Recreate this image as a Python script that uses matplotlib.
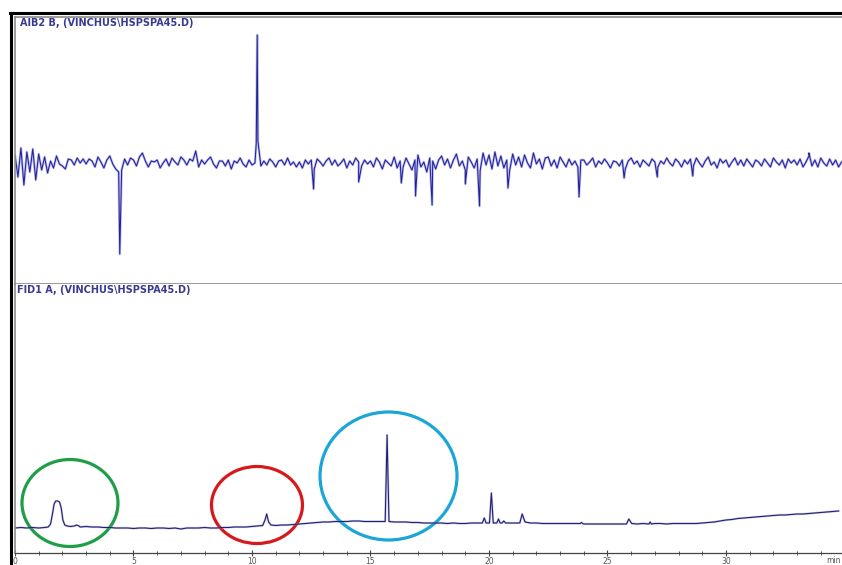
import numpy as np
import matplotlib
matplotlib.use("Agg")
import matplotlib.pyplot as plt
from matplotlib.patches import Ellipse
from matplotlib.lines import Line2D
from matplotlib.ticker import MultipleLocator

# AIB2 B trace: detector noise sampled every 0.125 min (signal offset, arbitrary units)
aib_step = 0.125
aib_noise = [
    8, -14, 15, -22, 11, -9, 14, -17, 9, -7, 6, -10,
    2, -5, 7, -1, -3, -6, 4, 3, -2, 5, 0, 4,
    -1, 4, 2, -4, 6, 1, -5, 3, 7, -1, -6, -9,
    -7, 4, -2, 5, 3, -3, 6, 10, 2, -4, 2, 1,
    3, -5, 0, 4, -3, 5, 1, -2, 6, 3, -2, 4,
    2, 12, -4, 3, -1, 3, 6, -1, -5, 2, 2, -3,
    3, -6, 2, 0, 5, -1, -4, 3, -2, 0, 22, -3,
    2, -2, 4, 1, -4, 2, 3, -2, 5, -2, 1, -4,
    1, -5, 3, -1, 3, -6, 4, 1, -3, 2, 5, -2,
    3, -3, 0, 4, -5, 2, -2, 5, 1, -3, 3, -1,
    2, -4, 5, 1, -6, 3, 0, -3, 6, -5, 2, -4,
    5, -1, -7, 3, 8, -4, 1, -9, 5, 2, -6, 3,
    7, -2, 4, -5, 3, 9, -3, 2, -7, 6, 1, -5,
    4, -8, 10, -2, 8, -6, 11, -3, 7, -5, 3, -7,
    9, -2, 6, -4, 8, 0, -5, 10, -1, 4, -6, 5,
    6, -3, 3, -5, 6, 1, -4, 4, -2, 2, -4, 3,
    3, -2, 1, 5, -4, 2, -1, 4, 0, -5, 2, 1,
    -3, 3, -6, 2, 5, -1, 2, -4, 3, 0, -3, 4,
    1, -4, 2, -1, 5, 0, -3, 4, 1, -4, 3, -1,
    4, -3, 5, 0, -4, 2, 6, -2, 1, -5, 4, 0,
    3, -4, 1, 5, -2, 3, -3, 4, 0, -4, 3, 1,
    -3, 4, 0, -4, 5, 1, -2, 3, -5, 4, 0, 3,
    -2, 4, -4, 1, 7, -3, 3, -4, 5, 0, -3, 4, -2, 3, -4, 1,
]
# sharp spikes on the AIB2 trace (min, signal)
aib_spike_t = [4.42, 10.18, 10.22, 12.6, 14.5, 16.3, 16.9, 17.6, 19.0, 19.6,
               20.8, 23.8, 25.7, 27.1, 28.6, 33.5]
aib_spike_v = [-91, 20, 128, -26, -19, -20, -33, -42, -21, -43,
               -25, -34, -15, -14, -13, 10]

# FID1 A baseline sampled every 0.25 min
fid_step = 0.25
fid_base = [
    0, 0.5, 0, 0.5, 0, 0.5, 0, 0.5, 1, 1.5, 1.5, 1,
    1.5, 1, 1, 0.5, 0.5, 0, 0, 0, -0.5, 0, 0, -0.5,
    0, 0, -0.5, 0, -1, 0, 0, 0, 0.5, 0, 0, 0.5,
    0.5, 1, 1, 1, 1.5, 2, 2, 2.5, 2.5, 3, 3, 3.5,
    4, 4.5, 5, 5.5, 6, 6, 6.5, 6.5, 6.5, 7, 7, 6.5,
    6.5, 6.5, 6.5, 6.5, 6, 6, 6, 5.5, 5.5, 5, 5, 5,
    5, 4.5, 5, 4.5, 4.5, 5, 5, 5, 5, 5, 5, 5,
    5, 5, 5, 5, 5, 4.5, 4.5, 4.5, 4.5, 4.5, 4.5, 4.5,
    4, 4, 4, 4, 4, 4, 4, 4, 4, 4, 4.5, 4.5,
    4.5, 4.5, 4, 4.5, 4.5, 4.5, 4.5, 4.5, 5, 5.5, 6, 7,
    8, 8.5, 9.5, 10, 10.5, 11, 11.5, 12, 12.5, 13, 13, 13.5,
    14, 14, 14.5, 15, 15.5, 16, 16.5, 17,
]
# FID peaks, each as its own run of points (min, signal)
fid_peak_t = [
    [1.40, 1.50, 1.58, 1.65, 1.72, 1.80, 1.88, 1.95, 2.02, 2.10, 2.20, 2.35],
    [2.50, 2.60, 2.70],
    [10.45, 10.55, 10.62, 10.70, 10.80],
    [15.62, 15.70, 15.78],
    [19.72, 19.80, 19.88],
    [20.02, 20.10, 20.18],
    [20.33, 20.40, 20.47],
    [20.55, 20.62, 20.70],
    [21.30, 21.40, 21.52],
    [23.85, 23.90, 23.95],
    [25.80, 25.90, 26.02],
    [26.75, 26.80, 26.85],
]
fid_peak_y = [
    [1, 4, 14, 24, 27, 27, 26, 20, 8, 3, 2, 1.5],
    [2, 3, 2],
    [2.5, 8, 14, 6, 3],
    [6.5, 93, 6.5],
    [5, 10, 5],
    [5, 35, 5],
    [5, 9, 5],
    [5, 7, 5],
    [5, 14, 6],
    [4.5, 5.5, 4.5],
    [4, 9, 4.5],
    [4, 6, 4],
]

# highlighted regions on the FID trace: centre (min, signal), size (min, signal)
mark_xy = [(2.32, 25), (10.21, 23), (15.76, 52)]
mark_size = [(4.05, 87), (3.84, 77), (5.78, 128)]
mark_colors = ["#1f9e48", "#d7191c", "#1ba6d6"]

tick_major = [0, 5, 10, 15, 20, 25, 30]

W, H = 842, 565
fig = plt.figure(figsize=(W / 100, H / 100), dpi=100)
fig.patch.set_facecolor("white")


def box(x0, y0, x1, y1):
    return [x0 / W, 1 - y1 / H, (x1 - x0) / W, (y1 - y0) / H]


tmax = 827 / 23.7
ax1 = fig.add_axes(box(15, 17, 842, 284))
ax2 = fig.add_axes(box(15, 284, 842, 553))

# top trace
t1 = np.arange(len(aib_noise)) * aib_step
t_all = np.concatenate([t1, aib_spike_t])
y_all = np.concatenate([np.array(aib_noise, float), aib_spike_v])
o = np.argsort(t_all, kind="stable")
ax1.plot(t_all[o], y_all[o], color="#9090e0", lw=1.8, alpha=0.6)
ax1.plot(t_all[o], y_all[o], color="#22229a", lw=0.75)
ax1.set_xlim(0, tmax)
ax1.set_ylim(-121, 146)

# bottom trace
t2 = np.arange(len(fid_base)) * fid_step
keep = np.ones(len(t2), bool)
for pt in fid_peak_t:
    keep &= ~((t2 >= pt[0]) & (t2 <= pt[-1]))
ft = np.concatenate([t2[keep]] + [np.array(p) for p in fid_peak_t])
fy = np.concatenate([np.array(fid_base, float)[keep]] + [np.array(p, float) for p in fid_peak_y])
o = np.argsort(ft, kind="stable")
ax2.plot(ft[o], fy[o], color="#9090e0", lw=1.6, alpha=0.5)
ax2.plot(ft[o], fy[o], color="#22226a", lw=0.8)
ax2.set_xlim(0, tmax)
ax2.set_ylim(-25, 244)

for (cx, cy), (w, h), c in zip(mark_xy, mark_size, mark_colors):
    ax2.add_patch(Ellipse((cx, cy), w, h, fill=False, ec=c, lw=2.3, clip_on=False))

for ax in (ax1, ax2):
    ax.set_facecolor("white")
    ax.spines["right"].set_visible(False)
    ax.spines["left"].set_color("#8a8a8a")
    ax.spines["left"].set_linewidth(1.2)
    ax.set_yticks([])

ax1.set_xticks([])
for s in ("top", "bottom"):
    ax1.spines[s].set_color("#8a8a8a")
    ax1.spines[s].set_linewidth(1.2)

ax2.spines["top"].set_visible(False)
ax2.spines["bottom"].set_color("#444444")
ax2.spines["bottom"].set_linewidth(0.9)
ax2.set_xticks(tick_major)
ax2.set_xticklabels([str(v) for v in tick_major])
ax2.xaxis.set_minor_locator(MultipleLocator(1))
ax2.tick_params(axis="x", which="major", direction="inout", length=5, width=0.8,
                color="#444444", labelsize=5.5, labelcolor="#555555", pad=0.5)
ax2.tick_params(axis="x", which="minor", direction="inout", length=3.5, width=0.7,
                color="#555555")
ax2.text(841 / W, 1 - 556 / H, "min", transform=fig.transFigure,
         fontsize=5.5, color="#555555", ha="right", va="top")

fig.text(20 / W, 1 - 23 / H, "AIB2 B, (VINCHUS\\HSPSPA45.D)", fontsize=7,
         fontweight="bold", color="#3a3a90", family="DejaVu Sans", va="center")
fig.text(17 / W, 1 - 290 / H, "FID1 A, (VINCHUS\\HSPSPA45.D)", fontsize=7,
         fontweight="bold", color="#3a3a90", family="DejaVu Sans", va="center")

# outer frame
fig.add_artist(Line2D([10 / W, 1], [1 - 13 / H, 1 - 13 / H], color="black", lw=2.2))
fig.add_artist(Line2D([11 / W, 11 / W], [0, 1 - 13 / H], color="black", lw=2.2))

fig.savefig("out.png", dpi=100)
